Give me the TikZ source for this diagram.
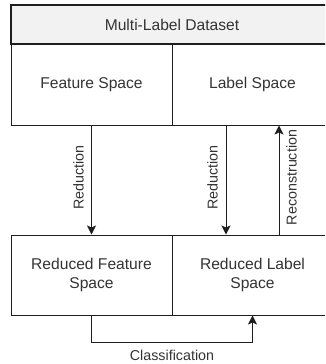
\documentclass[tikz,border=0pt]{standalone}
\usepackage{fontspec}
\setmainfont{Liberation Sans}
\usetikzlibrary{arrows.meta}
\definecolor{txt}{HTML}{333333}
\definecolor{ln}{HTML}{1E1E1E}
\definecolor{hdr}{HTML}{F2F2F2}
\begin{document}
\begin{tikzpicture}[x=1pt,y=-1pt,
  box/.style={draw=ln, line width=1pt, minimum width=161pt, minimum height=81pt,
    text=txt, align=center, inner sep=0pt, font=\fontsize{15.6}{18.5}\selectfont},
  hdrbox/.style={draw=ln, fill=hdr, line width=2pt, minimum width=322pt, minimum height=39.5pt,
    text=txt, inner sep=0pt, font=\fontsize{15.6}{18.5}\selectfont},
  arr/.style={draw=ln, line width=1pt, -{Stealth[length=9pt,width=9pt,inset=2pt]}},
  lbl/.style={text=txt, inner sep=0pt, font=\fontsize{14.3}{16}\selectfont}
]
\useasboundingbox (0,0) rectangle (325,364);
\clip (0,0) rectangle (325,364);
\node[box] (fs) at (91.5,84.5) {Feature Space};
\node[box] (ls) at (252.5,84.5) {Label Space};
\node[hdrbox] (ds) at (172,24.5) {Multi-Label Dataset};
\node[box, minimum height=80pt] (rfs) at (91.5,275) {Reduced Feature\\Space};
\node[box, minimum height=80pt] (rls) at (252.5,275) {Reduced Label\\Space};
\draw[arr] (fs.south) -- (rfs.north);
\draw[arr] ([xshift=-26.5pt]ls.south) -- ([xshift=-26.5pt]rls.north);
\draw[arr] ([xshift=26.5pt]rls.north) -- ([xshift=26.5pt]ls.south);
\draw[arr] (rfs.south) -- ++(0,27) coordinate (cl) -| (rls.south);
\node[lbl, rotate=90] (r1) at (78.5,177.5) {Reduction};
\node[lbl, rotate=90] (r2) at (212.5,177.5) {Reduction};
\node[lbl, rotate=90] (rc) at (291.5,177.5) {Reconstruction};
\node[lbl] (cls) at (172,355) {Classification};
\end{tikzpicture}
\end{document}
